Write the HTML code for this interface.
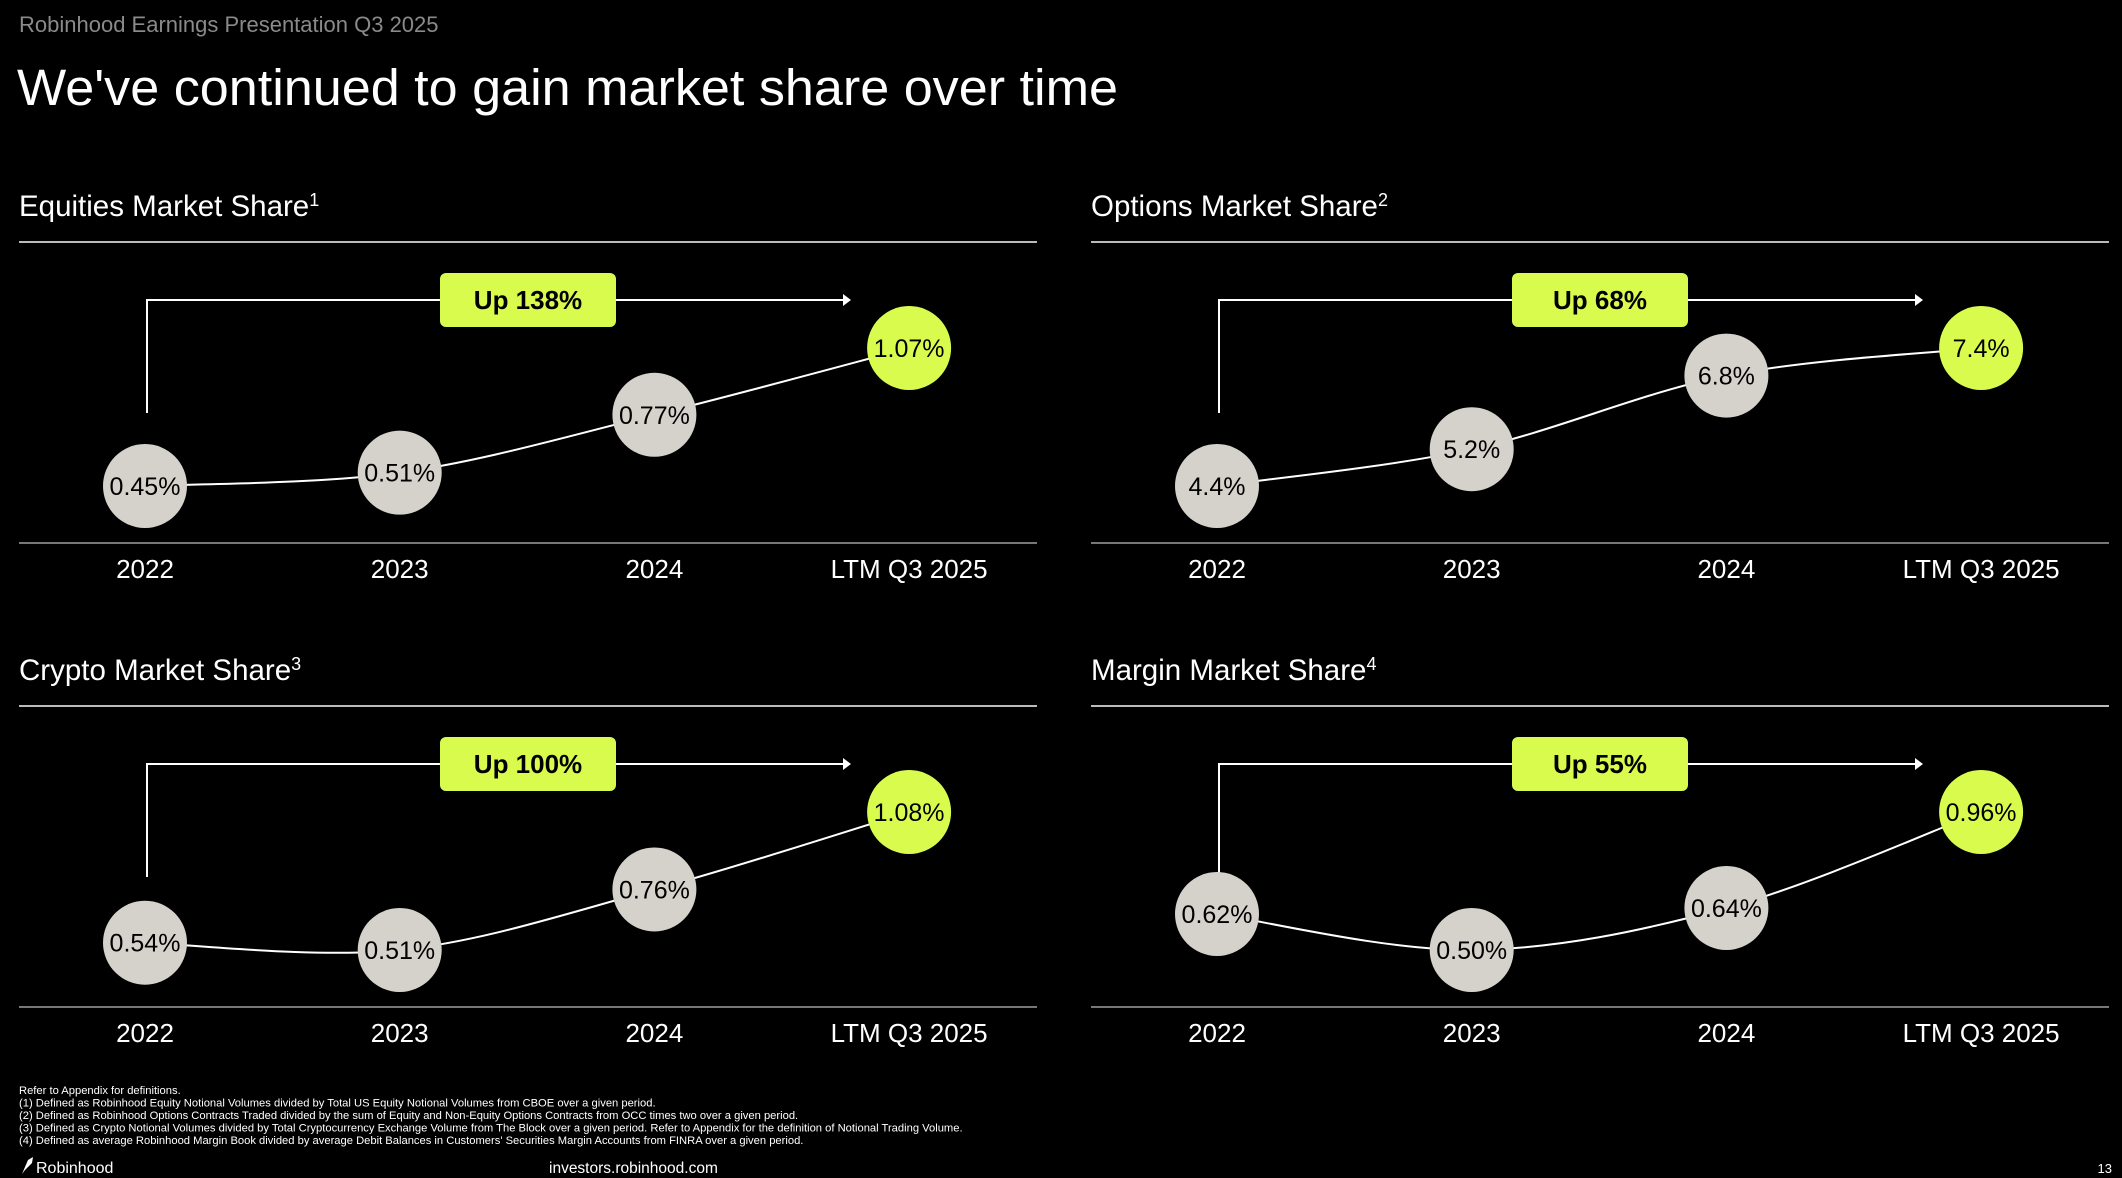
<!DOCTYPE html>
<html><head><meta charset="utf-8">
<style>
html,body{margin:0;padding:0;background:#000;}
svg{display:block;font-family:"Liberation Sans",Arial,sans-serif;}
</style></head>
<body>
<svg id="root" width="2122" height="1178" viewBox="0 0 2122 1178" xmlns="http://www.w3.org/2000/svg">
<rect width="2122" height="1178" fill="#000"/>
<text x="19" y="32" font-size="22" fill="#8a8a8a">Robinhood Earnings Presentation Q3 2025</text>
<text x="17" y="105" font-size="51" fill="#fff" textLength="1101" lengthAdjust="spacingAndGlyphs">We've continued to gain market share over time</text>
<g id="charts"></g>
<g font-size="11.2" fill="#fff">
<text x="19" y="1094">Refer to Appendix for definitions.</text>
<text x="19" y="1106.5">(1) Defined as Robinhood Equity Notional Volumes divided by Total US Equity Notional Volumes from CBOE over a given period.</text>
<text x="19" y="1119">(2) Defined as Robinhood Options Contracts Traded divided by the sum of Equity and Non-Equity Options Contracts from OCC times two over a given period.</text>
<text x="19" y="1131.5">(3) Defined as Crypto Notional Volumes divided by Total Cryptocurrency Exchange Volume from The Block over a given period. Refer to Appendix for the definition of Notional Trading Volume.</text>
<text x="19" y="1144">(4) Defined as average Robinhood Margin Book divided by average Debit Balances in Customers' Securities Margin Accounts from FINRA over a given period.</text>
</g>
<g>
<path d="M22 1174 L28 1160 L33 1157 L32 1163 L25 1170 Z" fill="#fff"/>
<text x="36" y="1173" font-size="16" fill="#fff">Robinhood</text>
</g>
<text x="549" y="1173" font-size="15.5" fill="#fff">investors.robinhood.com</text>
<text x="2112" y="1173" font-size="13" fill="#fff" text-anchor="end">13</text>
</svg>
<script>
const categories = ["2022","2023","2024","LTM Q3 2025"];
const panelTitles = ["Equities Market Share","Options Market Share","Crypto Market Share","Margin Market Share"];
const panelSup = ["1","2","3","4"];
const equitiesValues = [0.45,0.51,0.77,1.07];
const optionsValues = [4.4,5.2,6.8,7.4];
const cryptoValues = [0.54,0.51,0.76,1.08];
const marginValues = [0.62,0.50,0.64,0.96];
const equitiesLabels = ["0.45%","0.51%","0.77%","1.07%"];
const optionsLabels = ["4.4%","5.2%","6.8%","7.4%"];
const cryptoLabels = ["0.54%","0.51%","0.76%","1.08%"];
const marginLabels = ["0.62%","0.50%","0.64%","0.96%"];
const growthLabels = ["Up 138%","Up 68%","Up 100%","Up 55%"];

const NS="http://www.w3.org/2000/svg";
const LIME="#d9fb4e", GRAY="#d5d2cb";
function mk(tag,attrs,parent){const e=document.createElementNS(NS,tag);for(const k in attrs)e.setAttribute(k,attrs[k]);parent.appendChild(e);return e;}
const root=document.getElementById('charts');
const series=[equitiesValues,optionsValues,cryptoValues,marginValues];
const labels=[equitiesLabels,optionsLabels,cryptoLabels,marginLabels];
const offsets=[[0,0],[1072,0],[0,464],[1072,464]];
const keys=["equities","options","crypto","margin"];

series.forEach((vals,p)=>{
  const [ox,oy]=offsets[p];
  const g=mk('g',{transform:`translate(${ox},${oy})`},root);
  
  
  const t=mk('text',{x:19,y:216,'font-size':29.5,fill:'#fff'},g);
  
  
  t.textContent=panelTitles[p];
  const sup=mk('tspan',{'font-size':18,dy:-10},t); sup.textContent=panelSup[p];
  mk('line',{x1:19,x2:1037,y1:242,y2:242,stroke:'#bbb','stroke-width':2},g);
  mk('line',{x1:19,x2:1037,y1:543,y2:543,stroke:'#777','stroke-width':2},g);
  const xPos=i=>145+i*254.7;
  const vmin=Math.min(...vals), vmax=Math.max(...vals);
  const yPos=v=>486-(v-vmin)/(vmax-vmin)*138;
  const ar=mk('path',{d:`M147 413 V300 H845`,fill:'none',stroke:'#fff','stroke-width':2},g);
  
  
  mk('path',{d:'M843 294 L851 300 L843 306 Z',fill:'#fff'},g);
  const bx=mk('rect',{x:440,y:273,width:176,height:54,rx:6,fill:LIME},g);
  
  
  const bt=mk('text',{x:528,y:309,'font-size':26,'font-weight':'bold','text-anchor':'middle',fill:'#000'},g);
  bt.textContent=growthLabels[p];
  const pts=vals.map((v,i)=>[xPos(i),yPos(v)]);
  let d=`M${pts[0][0]} ${pts[0][1]}`;
  for(let i=0;i<pts.length-1;i++){
    const p0=pts[Math.max(0,i-1)],p1=pts[i],p2=pts[i+1],p3=pts[Math.min(pts.length-1,i+2)];
    const c1=[p1[0]+(p2[0]-p0[0])/6,p1[1]+(p2[1]-p0[1])/6];
    const c2=[p2[0]-(p3[0]-p1[0])/6,p2[1]-(p3[1]-p1[1])/6];
    d+=` C${c1[0]} ${c1[1]} ${c2[0]} ${c2[1]} ${p2[0]} ${p2[1]}`;
  }
  const ln=mk('path',{d,fill:'none',stroke:'#fff','stroke-width':2},g);
  
  
  vals.forEach((v,i)=>{
    const c=mk('circle',{cx:xPos(i),cy:yPos(v),r:42,fill:i===vals.length-1?LIME:GRAY},g);
    
    
    const vt=mk('text',{x:xPos(i),y:yPos(v)+9,'font-size':25,'text-anchor':'middle',fill:'#000'},g);
    vt.textContent=labels[p][i];
    const ct=mk('text',{x:xPos(i),y:578,'font-size':26,'text-anchor':'middle',fill:'#fff'},g);
    
    
    ct.textContent=categories[i];
  });
});
</script>
</body></html>
